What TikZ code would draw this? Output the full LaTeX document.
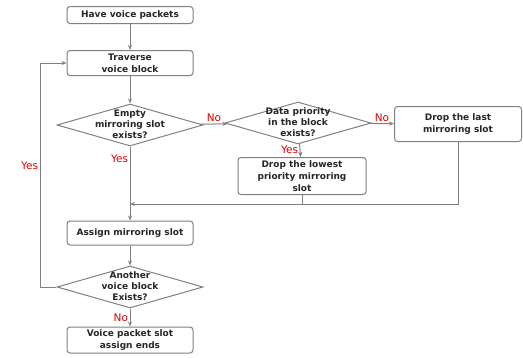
\documentclass[tikz,border=0pt]{standalone}
\usepackage{fontspec}
\setmainfont{DejaVu Sans}
\usetikzlibrary{shapes.geometric,arrows.meta}
\newcommand{\dtext}[1]{\makebox[0pt]{\smash{\raisebox{-0.25em}{\begin{tabular}{@{}c@{}}#1\end{tabular}}}}}
\renewcommand{\arraystretch}{0.92}

\begin{document}
\begin{tikzpicture}[x=1pt,y=-1pt,
    font=\fontsize{9}{12}\selectfont\bfseries,text=black!85,
    process/.style={draw=black!50,rounded corners=3pt,line width=1pt,minimum width=126pt,align=center,inner sep=1pt},
    decision/.style={draw=black!50,diamond,line width=1pt,minimum width=146pt,minimum height=42pt,inner sep=0pt},
    flow/.style={draw=black!50,line width=1pt,-{Stealth[length=5pt,width=4pt]}},
    link/.style={draw=black!50,line width=1pt},
    ans/.style={text=red!85!black,font=\fontsize{10.5}{12}\selectfont,inner sep=1.5pt}]
      \useasboundingbox (0,0) rectangle (523,357);
      \node[process,minimum height=17pt] (start) at (130,15) {Have voice packets};
      \node[process,minimum height=25pt] (trav) at (130,63) {Traverse\\voice block};
      \node[decision] (empty) at (130,125) {\dtext{Empty\\mirroring slot\\exists?}};
      \node[decision] (prio) at (298,123) {\dtext{Data priority\\in the block\\exists?}};
      \node[process,minimum width=127pt,minimum height=35pt] (last) at (458,124) {Drop the last\\mirroring slot};
      \node[process,minimum width=128pt,minimum height=37pt] (lowest) at (302,176) {Drop the lowest\\priority mirroring\\slot};
      \coordinate (merge) at (130,204);
      \node[process,minimum height=24pt] (assign) at (130,233) {Assign mirroring slot};
      \node[decision] (another) at (130,287) {\dtext{Another\\voice block\\Exists?}};
      \node[process,minimum height=26pt] (done) at (130,340) {Voice packet slot\\assign ends};
      \coordinate (back) at (40,287);
      \draw[flow] (start) -- (trav);
      \draw[flow] (trav) -- (empty);
      \draw[flow] (empty) -- node[ans,above] {No} (prio);
      \draw[flow] (prio) -- node[ans,above] {No} (last);
      \draw[flow] (prio) -- node[ans,left,pos=0.45] {Yes} (lowest);
      \draw[flow] (empty) -- node[ans,left,pos=0.16] {Yes} (assign);
      \draw[link] (lowest) -- (lowest.south |- merge);
      \draw[flow] (last) |- (merge);
      \draw[flow] (assign) -- (another);
      \draw[flow] (another) -- node[ans,left] {No} (done);
      \draw[flow] (another) -- (back) |- node[ans,left,pos=0.27] {Yes} (trav);
    \end{tikzpicture}
\end{document}
